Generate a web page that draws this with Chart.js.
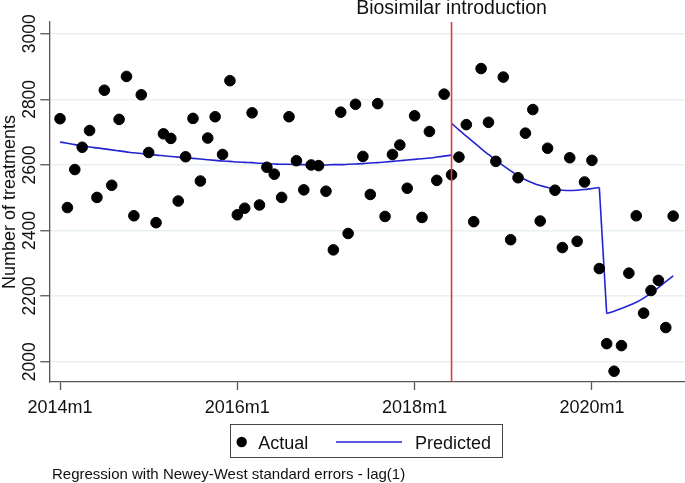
<!DOCTYPE html>
<html>
<head>
<meta charset="utf-8">
<script src="https://cdn.jsdelivr.net/npm/chart.js@4.4.1/dist/chart.umd.min.js"></script>
<style>
  html, body { margin: 0; padding: 0; background: #fff; }
  #wrap { width: 685px; height: 483px; }
</style>
</head>
<body>
<div id="wrap"><canvas id="chart"></canvas></div>
<script>
// Monthly data, x = months since 2014m1
const actual = [
  2741, 2470, 2586, 2654, 2705, 2501, 2828, 2538, 2739, 2870,
  2445, 2814, 2638, 2424, 2695, 2681, 2490, 2625, 2742, 2551,
  2682, 2747, 2632, 2857, 2448, 2468, 2759, 2478, 2593, 2572,
  2501, 2747, 2613, 2524, 2600, 2598, 2520, 2341, 2761, 2391,
  2785, 2626, 2510, 2787, 2443, 2632, 2661, 2529, 2750, 2440,
  2702, 2553, 2816, 2570, 2624, 2723, 2427, 2894, 2730, 2611,
  2868, 2372, 2561, 2697, 2769, 2429, 2651, 2523, 2348, 2622,
  2367, 2548, 2614, 2284, 2055, 1971, 2049, 2270, 2445, 2148,
  2217, 2248, 2104, 2444
];

// predicted, before biosimilar (months 0..53)
const predPre = [
  2670, 2666, 2662, 2659, 2655, 2652, 2649, 2646, 2643, 2640,
  2637, 2635, 2633, 2630, 2628, 2626, 2624, 2622, 2620, 2618,
  2616, 2614, 2612, 2611, 2609, 2608, 2607, 2605, 2604, 2603,
  2602, 2602, 2601, 2601, 2600, 2600, 2600, 2601, 2601, 2602,
  2603, 2604, 2606, 2607, 2609, 2611, 2613, 2615, 2617, 2619,
  2621, 2624, 2627, 2630
];
// predicted, after biosimilar (months 53..73)
const predPost = [
  2727, 2707, 2688, 2669, 2650, 2632, 2614, 2598, 2582, 2567,
  2555, 2545, 2537, 2531, 2526, 2523, 2522, 2523, 2525, 2528,
  2531
];
// predicted, 2020m3 onwards (months 74..83)
const predCovid = [
  2147, 2154, 2162, 2171, 2181, 2194, 2209, 2226, 2244, 2262
];

const introMonth = 53;            // 2018m6
const covidMonth = 74;            // 2020m3
const xTickMonths = [0, 24, 48, 72];
const xTickLabels = ['2014m1', '2016m1', '2018m1', '2020m1'];
const yTicks = [2000, 2200, 2400, 2600, 2800, 3000];

const FONT = '"Liberation Sans", Arial, sans-serif';
const TEXT = '#111';
const AXIS = '#555';
const BLUE = '#2323d2';

const decor = {
  id: 'decor',
  afterDatasetsDraw(chart) {
    const { ctx, chartArea, scales } = chart;
    const x = scales.x.getPixelForValue(introMonth);
    ctx.save();
    ctx.strokeStyle = '#dc3c3c';
    ctx.lineWidth = 1.6;
    ctx.beginPath();
    ctx.moveTo(x, chartArea.top);
    ctx.lineTo(x, chartArea.bottom);
    ctx.stroke();
    ctx.restore();
  },
  afterDraw(chart) {
    const { ctx, chartArea, scales } = chart;
    ctx.save();
    ctx.fillStyle = TEXT;

    // title over the red line
    ctx.font = `19.5px ${FONT}`;
    ctx.textAlign = 'center';
    ctx.textBaseline = 'alphabetic';
    ctx.fillText('Biosimilar introduction', scales.x.getPixelForValue(introMonth), 14);

    // y tick labels, rotated
    ctx.font = `17.5px ${FONT}`;
    yTicks.forEach(v => {
      ctx.save();
      ctx.translate(34.5, scales.y.getPixelForValue(v));
      ctx.rotate(-Math.PI / 2);
      ctx.fillText(String(v), 0, 0);
      ctx.restore();
    });

    // y title
    ctx.font = `18px ${FONT}`;
    ctx.save();
    ctx.translate(15, (chartArea.top + chartArea.bottom) / 2);
    ctx.rotate(-Math.PI / 2);
    ctx.fillText('Number of treatments', 0, 0);
    ctx.restore();

    // x tick labels
    ctx.font = `18px ${FONT}`;
    xTickMonths.forEach((m, i) => {
      ctx.fillText(xTickLabels[i], scales.x.getPixelForValue(m), 412.5);
    });

    // legend
    ctx.fillStyle = '#fff';
    ctx.fillRect(230.5, 424.5, 272, 33);
    ctx.strokeStyle = '#444';
    ctx.lineWidth = 1;
    ctx.strokeRect(230.5, 424.5, 272, 33);
    ctx.fillStyle = '#000';
    ctx.beginPath();
    ctx.arc(241.7, 442, 5.2, 0, Math.PI * 2);
    ctx.fill();
    ctx.strokeStyle = BLUE;
    ctx.lineWidth = 1.6;
    ctx.beginPath();
    ctx.moveTo(336, 442);
    ctx.lineTo(402, 442);
    ctx.stroke();
    ctx.fillStyle = TEXT;
    ctx.font = `18px ${FONT}`;
    ctx.textAlign = 'left';
    ctx.fillText('Actual', 258.3, 449);
    ctx.fillText('Predicted', 415, 449);

    // note
    ctx.font = `15px ${FONT}`;
    ctx.fillText('Regression with Newey-West standard errors - lag(1)', 52, 479);
    ctx.restore();
  }
};

const lineStyle = {
  type: 'line',
  borderColor: BLUE,
  backgroundColor: BLUE,
  borderWidth: 1.6,
  pointRadius: 0,
  cubicInterpolationMode: 'monotone',
  fill: false,
  order: 2
};

const toPoints = (arr, start) => arr.map((v, i) => ({ x: start + i, y: v }));

new Chart(document.getElementById('chart'), {
  type: 'scatter',
  data: {
    datasets: [
      {
        label: 'Actual',
        data: toPoints(actual, 0),
        backgroundColor: '#000',
        borderColor: '#000',
        pointRadius: 5.3,
        pointHoverRadius: 5.3,
        order: 1
      },
      Object.assign({ label: 'Predicted', data: toPoints(predPre, 0) }, lineStyle),
      Object.assign({ label: 'Predicted (post)', data: toPoints(predPost, introMonth) }, lineStyle),
      Object.assign({}, lineStyle, {
        label: 'Predicted (drop)',
        cubicInterpolationMode: 'default',
        tension: 0,
        data: [
          { x: covidMonth - 1, y: predPost[predPost.length - 1] },
          { x: covidMonth, y: predCovid[0] }
        ]
      }),
      Object.assign({ label: 'Predicted (covid)', data: toPoints(predCovid, covidMonth) }, lineStyle)
    ]
  },
  options: {
    responsive: true,
    maintainAspectRatio: false,
    animation: false,
    layout: { autoPadding: false, padding: { left: 40.3, right: 0, top: 22, bottom: 93 } },
    plugins: {
      legend: { display: false },
      tooltip: { enabled: false }
    },
    scales: {
      x: {
        type: 'linear',
        min: -1.45,
        max: 84.6,
        afterBuildTicks: s => { s.ticks = xTickMonths.map(v => ({ value: v })); },
        ticks: { display: false },
        grid: { drawOnChartArea: false, drawTicks: true, tickLength: 8, tickColor: AXIS, tickWidth: 1.3 },
        border: { display: true, color: AXIS, width: 1.3 }
      },
      y: {
        min: 1938,
        max: 3036,
        afterBuildTicks: s => { s.ticks = yTicks.map(v => ({ value: v })); },
        ticks: { display: false },
        grid: { color: '#e9f0f2', lineWidth: 1.5, drawTicks: true, tickLength: 9, tickColor: AXIS, tickWidth: 1.3 },
        border: { display: true, color: AXIS, width: 1.3 }
      }
    }
  },
  plugins: [decor]
});
</script>
</body>
</html>
